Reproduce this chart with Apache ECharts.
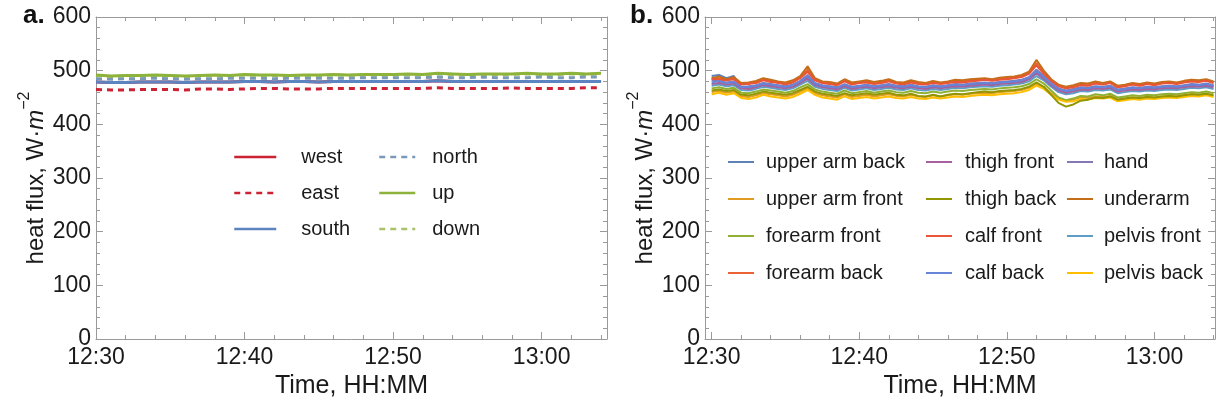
<!DOCTYPE html>
<html>
<head>
<meta charset="utf-8">
<script src="https://cdn.jsdelivr.net/npm/echarts@6/dist/echarts.min.js"></script>
<style>
html,body{margin:0;padding:0;background:#fff;}
#chart{width:1217px;height:406px;}
</style>
</head>
<body>
<div id="chart"></div>
<script>
// ---------- DATA ----------
// Panel a: orientation heat flux, 1-minute samples (minutes of day, 750 = 12:30)
const leftMinutes = [750,751,752,753,754,755,756,757,758,759,760,761,762,763,764,765,766,767,768,769,770,771,772,773,774,775,776,777,778,779,780,781,782,783,784];
const westVals  = [479,478,478,479,479,479,478,479,479,479,480,480,479,480,480,479,480,480,480,480,480,480,480,481,480,480,480,480,480,480,480,480,480,480,480];
const eastVals  = [465,464,464,465,465,465,464,466,466,465,466,467,467,466,466,466,467,467,467,467,467,467,467,468,467,467,467,467,468,467,467,467,467,468,468];
const southVals = [479,478,478,479,479,479,478,479,479,479,480,480,479,480,480,479,480,480,480,480,480,480,480,481,480,480,480,480,480,480,480,480,480,480,480];
const northVals = [485,484,485,485,486,485,484,485,485,486,486,486,485,486,486,486,486,486,487,487,487,487,487,488,487,487,488,487,487,487,488,487,487,488,488];
const upVals    = [492,490,491,491,492,491,490,491,492,491,493,492,492,491,492,492,493,492,493,493,493,494,493,495,494,493,494,494,494,495,494,494,495,494,495];
const downVals  = [491,489,490,490,491,490,489,490,491,490,492,491,491,490,491,491,492,491,492,492,492,493,492,494,493,492,493,493,493,494,493,493,494,493,494];

// Panel b: body-site heat flux, 30-second samples
const rightMinutes = [750,750.5,751,751.5,752,752.5,753,753.5,754,754.5,755,755.5,756,756.5,757,757.5,758,758.5,759,759.5,760,760.5,761,761.5,762,762.5,763,763.5,764,764.5,765,765.5,766,766.5,767,767.5,768,768.5,769,769.5,770,770.5,771,771.5,772,772.5,773,773.5,774,774.5,775,775.5,776,776.5,777,777.5,778,778.5,779,779.5,780,780.5,781,781.5,782,782.5,783,783.5,784];
const upperArmBack  = [490,492,486,490,468,469,471,476,473,471,469,472,479,488,475,471,469,467,473,468,470,472,469,471,473,470,469,472,469,468,471,469,471,473,472,474,475,476,475,477,478,479,481,486,498,487,475,465,461,463,467,466,469,468,470,463,465,467,466,468,467,469,470,469,471,473,472,474,471];
const upperArmFront = [460,462,459,461,452,451,454,458,456,454,452,455,461,467,458,454,452,450,456,451,453,455,452,454,456,453,452,455,452,451,454,452,454,456,455,457,458,459,458,460,461,462,464,468,476,469,458,448,444,446,450,449,452,451,453,446,448,450,449,451,450,452,453,452,454,456,455,457,454];
const forearmFront  = [467,469,466,468,459,458,461,465,463,461,459,462,469,475,465,461,459,457,463,458,460,462,459,461,463,460,459,462,459,458,461,459,461,463,462,464,465,466,465,467,468,469,471,475,484,476,463,450,445,448,453,452,456,454,457,450,452,454,453,455,454,456,457,456,458,460,459,461,458];
const forearmBack   = [484,486,483,485,476,475,479,483,481,477,476,479,488,502,483,478,476,474,481,476,478,480,476,479,481,477,476,480,476,475,479,476,478,481,479,482,483,484,482,485,486,487,490,496,514,496,482,472,468,470,474,473,477,475,478,470,472,475,473,476,474,477,478,476,479,481,480,482,478];
const hand          = [482,480,478,480,470,471,473,477,475,473,471,474,481,492,477,473,471,469,475,470,472,474,471,473,475,472,471,474,471,470,473,471,473,475,474,476,477,478,477,479,480,481,483,488,502,490,477,467,463,466,469,468,471,470,472,465,467,469,468,470,469,471,472,471,473,475,474,476,473];
const underarm      = [486,489,484,488,477,478,481,486,483,480,478,482,490,508,486,480,479,476,484,478,480,482,479,481,484,479,478,482,479,477,481,478,480,483,482,484,485,486,484,487,488,489,492,498,520,500,484,474,470,473,477,476,480,477,480,472,474,477,475,478,476,479,480,478,481,483,482,484,480];
const pelvisFront   = [472,474,471,473,464,463,466,470,468,466,464,467,474,481,470,466,464,462,468,463,465,467,464,466,468,465,464,467,464,463,466,464,466,468,467,469,470,471,470,472,473,474,476,480,490,482,470,460,456,458,462,461,464,463,465,458,460,462,461,463,462,464,465,464,466,468,467,469,466];
const pelvisBack    = [456,459,455,458,449,447,450,455,452,450,448,451,457,464,455,450,448,446,452,447,449,451,448,450,452,449,448,451,448,447,450,448,450,452,451,453,454,455,454,456,457,458,460,464,472,466,455,446,442,443,447,446,449,448,450,443,445,447,446,448,447,449,450,449,451,453,452,454,451];
const thighFront    = [475,477,474,476,467,466,469,473,471,469,467,470,477,485,473,469,467,465,471,466,468,470,467,469,471,468,467,470,467,466,469,467,469,471,470,472,473,474,473,475,476,477,479,484,495,485,473,463,459,461,465,464,467,466,468,461,463,465,464,466,465,467,468,467,469,471,470,472,469];
const thighBack     = [463,465,462,464,455,454,457,461,459,457,455,458,464,470,461,457,455,453,458,454,456,458,455,457,459,455,454,457,453,452,455,452,455,457,456,458,460,461,460,462,463,464,466,470,478,470,455,440,433,437,444,446,450,449,452,446,448,450,449,451,450,452,453,452,454,456,455,457,454];
const calfFront     = [485,483,482,484,474,476,477,482,479,478,474,478,486,498,482,477,475,473,480,474,477,478,475,477,480,476,474,478,475,474,477,475,477,479,478,480,481,483,481,483,484,486,488,494,510,494,481,471,467,469,473,472,476,474,477,469,471,474,472,475,473,476,477,475,478,480,479,481,477];
const calfBack      = [478,481,477,479,469,470,472,476,474,472,470,473,480,490,476,472,470,468,474,469,471,473,470,472,474,471,470,473,470,469,472,470,472,474,473,475,476,477,476,478,479,480,482,487,500,488,476,466,462,464,468,467,470,469,471,464,466,468,467,469,468,470,471,470,472,474,473,475,472];

// Tick positions (minutes of day)
const majorTicks = [750,760,770,780];
const minorTicks = [752,754,756,758,762,764,766,768,772,774,776,778,782,784];

// ---------- STYLE ----------
const FONT = 'Liberation Sans';
const frameColor = '#9a9a9a';
const txt = '#1a1a1a';

function hhmm(v){
  const h = Math.floor(v/60), m = Math.round(v - h*60);
  return h + ':' + (m<10?'0':'') + m;
}
function pairs(xs, ys){ return xs.map((x,i)=>[x, ys[i]]); }

function xAxes(gridIndex, min, max){
  const base = {type:'value', gridIndex, min, max, splitLine:{show:false}};
  return [
    Object.assign({}, base, {position:'bottom',
      axisLine:{show:true, onZero:false, lineStyle:{color:frameColor, width:1}},
      axisTick:{show:true, inside:true, length:7, customValues:majorTicks, lineStyle:{color:frameColor}},
      axisLabel:{show:true, customValues:majorTicks, formatter:hhmm, color:txt, fontFamily:FONT, fontSize:23, margin:7},
      name:'Time, HH:MM', nameLocation:'middle', nameGap:33,
      nameTextStyle:{color:txt, fontFamily:FONT, fontSize:25}}),
    Object.assign({}, base, {position:'bottom',
      axisLine:{show:false, onZero:false},
      axisTick:{show:true, inside:true, length:4, customValues:minorTicks, lineStyle:{color:frameColor}},
      axisLabel:{show:false}}),
    Object.assign({}, base, {position:'top',
      axisLine:{show:true, onZero:false, lineStyle:{color:frameColor, width:1}},
      axisTick:{show:true, inside:true, length:7, customValues:majorTicks, lineStyle:{color:frameColor}},
      axisLabel:{show:false}}),
    Object.assign({}, base, {position:'top',
      axisLine:{show:false, onZero:false},
      axisTick:{show:true, inside:true, length:4, customValues:minorTicks, lineStyle:{color:frameColor}},
      axisLabel:{show:false}})
  ];
}
function yAxes(gridIndex){
  const base = {type:'value', gridIndex, min:0, max:600, interval:100, splitLine:{show:false},
    minorTick:{show:true, splitNumber:5, length:4, lineStyle:{color:frameColor}},
    axisTick:{show:true, inside:true, length:7, lineStyle:{color:frameColor}},
    axisLine:{show:true, onZero:false, lineStyle:{color:frameColor, width:1}}};
  return [
    Object.assign({}, base, {position:'left',
      axisLabel:{show:true, color:txt, fontFamily:FONT, fontSize:23, margin:5},
      name:'{a|heat flux, W·}{i|m}{s|−2}', nameLocation:'middle', nameRotate:90, nameGap:45,
      nameTextStyle:{color:txt, fontFamily:FONT, fontSize:24,
        rich:{a:{fontFamily:FONT, fontSize:24, color:txt, lineHeight:32, verticalAlign:'bottom'},
              i:{fontFamily:FONT, fontSize:24, fontStyle:'italic', color:txt, lineHeight:32, verticalAlign:'bottom'},
              s:{fontFamily:FONT, fontSize:16, color:txt, lineHeight:32, verticalAlign:'top'}}}}),
    Object.assign({}, base, {position:'right', axisLabel:{show:false}})
  ];
}

function lineSeries(name, xs, ys, color, width, dashed, xi, yi){
  return {name, type:'line', xAxisIndex:xi, yAxisIndex:yi, data:pairs(xs, ys),
    showSymbol:false, symbol:'none', smooth:false, animation:false,
    lineStyle:{color, width, type: dashed ? [6,5] : 'solid'}, itemStyle:{color}};
}

const cWest = '#cc2233', cSouth = '#5b84c0', cNorth = '#7a98b8', cUp = '#8db33a', cDown = '#a9c26a';

const leftSeries = [
  lineSeries('west',  leftMinutes, westVals,  cWest,  3, false, 0, 0),
  lineSeries('down',  leftMinutes, downVals,  cDown,  3, true,  0, 0),
  lineSeries('east',  leftMinutes, eastVals,  cWest,  3, true,  0, 0),
  lineSeries('south', leftMinutes, southVals, cSouth, 3, false, 0, 0),
  lineSeries('north', leftMinutes, northVals, cNorth, 3, true,  0, 0),
  lineSeries('up',    leftMinutes, upVals,    cUp,    3, false, 0, 0)
];

const rightDefs = [
  ['upper arm back',  upperArmBack,  '#5E81B5'],
  ['upper arm front', upperArmFront, '#E19C24'],
  ['forearm front',   forearmFront,  '#8FB032'],
  ['forearm back',    forearmBack,   '#EB6235'],
  ['hand',            hand,          '#8778B3'],
  ['underarm',        underarm,      '#C56E1A'],
  ['pelvis front',    pelvisFront,   '#5D9EC7'],
  ['pelvis back',     pelvisBack,    '#FFBF00'],
  ['thigh front',     thighFront,    '#A5609D'],
  ['thigh back',      thighBack,     '#929600'],
  ['calf front',      calfFront,     '#E95536'],
  ['calf back',       calfBack,      '#6685D9']
];
const rightSeries = rightDefs.map(d => lineSeries(d[0], rightMinutes, d[1], d[2], 2, false, 4, 2));

function legend(data, left, top, w, gap, pad, lw){
  return {data, left, top, orient:'vertical', itemWidth:w, itemHeight:12, itemGap:gap,
    selectedMode:false, padding:0,
    itemStyle:{opacity:0},
    lineStyle:{width:lw},
    textStyle:{color:txt, fontFamily:FONT, fontSize:20, padding:[0,0,0,pad]}};
}

const option = {
  backgroundColor:'#fff',
  animation:false,
  title:[
    {text:'a.', left:23, top:3, padding:0, textStyle:{fontFamily:FONT, fontSize:26, fontWeight:'bold', color:'#111'}},
    {text:'b.', left:630, top:3, padding:0, textStyle:{fontFamily:FONT, fontSize:26, fontWeight:'bold', color:'#111'}}
  ],
  grid:[
    {left:96, right:610, top:17, bottom:67, containLabel:false},
    {left:705, right:2, top:17, bottom:67, containLabel:false}
  ],
  xAxis: xAxes(0, 750, 784.4).concat(xAxes(1, 749.55, 784.1)),
  yAxis: yAxes(0).concat(yAxes(1)),
  legend:[
    legend(['west','east','south'], 233, 147, 42, 16, 20, 2.5),
    legend(['north','up','down'], 378, 147, 36, 16, 12, 2.5),
    legend(['upper arm back','upper arm front','forearm front','forearm back'], 727, 152, 26, 17, 7, 2),
    legend(['thigh front','thigh back','calf front','calf back'], 925, 152, 26, 17, 8, 2),
    legend(['hand','underarm','pelvis front','pelvis back'], 1066, 152, 26, 17, 6, 2)
  ],
  series: leftSeries.concat(rightSeries)
};

const chart = echarts.init(document.getElementById('chart'), null, {renderer:'canvas'});
chart.setOption(option);
</script>
</body>
</html>
